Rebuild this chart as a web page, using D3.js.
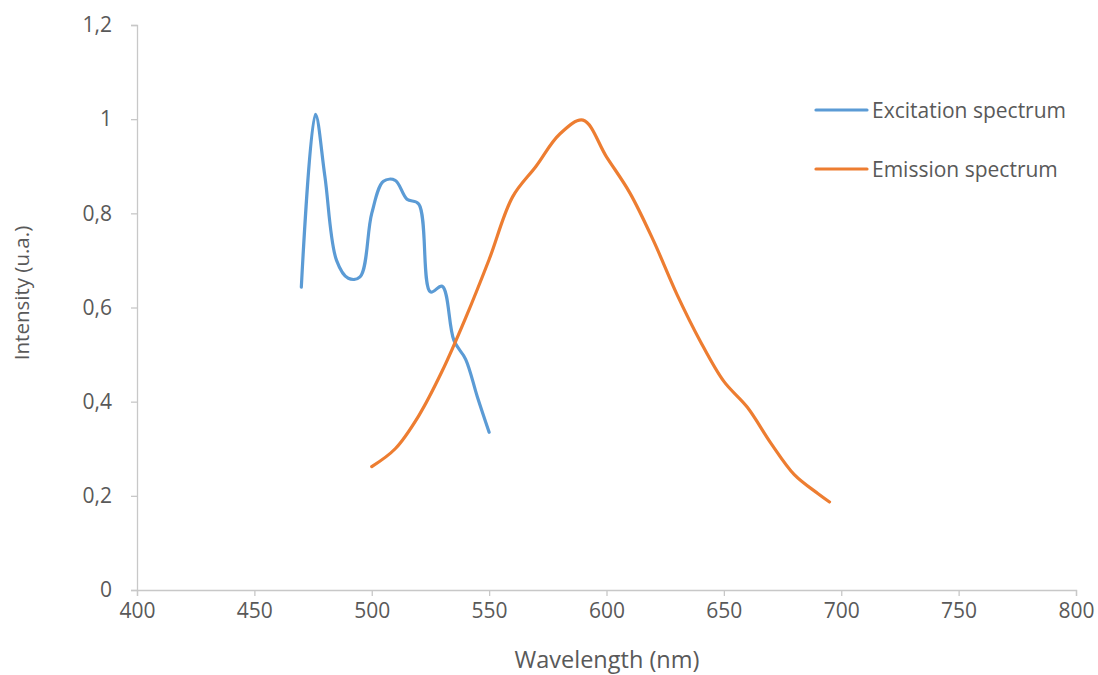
<!DOCTYPE html>
<html>
<head>
<meta charset="utf-8">
<script src="https://cdnjs.cloudflare.com/ajax/libs/d3/7.8.5/d3.min.js"></script>
<style>
  html, body { margin: 0; padding: 0; background: #fff; }
  svg text { font-family: "Open Sans", sans-serif; fill: #595959; }
</style>
</head>
<body>
<svg id="chart" width="1098" height="675"></svg>
<script>
// ---- data ----
const seriesNames = ["Excitation spectrum", "Emission spectrum"];
const excitationX = [470, 476, 480, 485, 490, 495, 500, 505, 510, 515, 520, 525, 530, 535, 540, 545, 550];
const excitationY = [0.643, 1.01, 0.88, 0.70, 0.662, 0.665, 0.80, 0.868, 0.870, 0.830, 0.820, 0.633, 0.645, 0.530, 0.490, 0.410, 0.335];
const emissionX = [500, 510, 520, 530, 540, 550, 560, 570, 580, 590, 600, 610, 620, 630, 640, 650, 660, 670, 680, 690, 695];
const emissionY = [0.262, 0.300, 0.370, 0.465, 0.578, 0.702, 0.835, 0.900, 0.968, 0.998, 0.920, 0.843, 0.742, 0.628, 0.528, 0.443, 0.388, 0.312, 0.245, 0.205, 0.187];
const xTicks = [400, 450, 500, 550, 600, 650, 700, 750, 800];
const yTicks = [0, 0.2, 0.4, 0.6, 0.8, 1, 1.2];
const colors = ["#5B9BD5", "#ED7D31"];

(function () {
const svg = d3.select("#chart");
const mLeft = 137, mRight = 1076, mTop = 25, mBottom = 590;

const x = d3.scaleLinear().domain([400, 800]).range([mLeft, mRight]);
const y = d3.scaleLinear().domain([0, 1.2]).range([mBottom, mTop]);

const axisColor = "#c8c8c8";
const fmt = v => String(+v.toFixed(1)).replace(".", ",");

// x axis
const xAxis = svg.append("g").attr("transform", `translate(0,${mBottom})`)
  .call(d3.axisBottom(x).tickValues(xTicks).tickSize(6).tickPadding(7).tickFormat(d => d));
xAxis.select(".domain").attr("stroke", axisColor).attr("stroke-width", 1.3);
xAxis.selectAll(".tick line").attr("stroke", axisColor).attr("stroke-width", 1.3);
xAxis.selectAll(".tick text").attr("font-size", 21).attr("fill", "#595959").attr("font-family", "Open Sans");

// y axis
const yAxis = svg.append("g").attr("transform", `translate(${mLeft},0)`)
  .call(d3.axisLeft(y).tickValues(yTicks).tickSize(6).tickPadding(19).tickFormat(fmt));
yAxis.select(".domain").attr("stroke", axisColor).attr("stroke-width", 1.3);
yAxis.selectAll(".tick line").attr("stroke", axisColor).attr("stroke-width", 1.3);
yAxis.selectAll(".tick text").attr("font-size", 21).attr("fill", "#595959").attr("font-family", "Open Sans");

// axis titles
svg.append("text").attr("x", 607).attr("y", 668).attr("text-anchor", "middle")
  .attr("font-size", 23.5).text("Wavelength (nm)");
svg.append("text").attr("transform", "translate(29,293) rotate(-90)").attr("text-anchor", "middle")
  .attr("font-size", 20.5).text("Intensity (u.a.)");

// lines
const line = d3.line().x(d => x(d[0])).y(d => y(d[1])).curve(d3.curveCatmullRom.alpha(0.5));
const data = [
  excitationX.map((v, i) => [v, excitationY[i]]),
  emissionX.map((v, i) => [v, emissionY[i]])
];
data.forEach((d, i) => {
  svg.append("path").datum(d).attr("d", line)
    .attr("fill", "none").attr("stroke", colors[i]).attr("stroke-width", 3.2)
    .attr("stroke-linecap", "round").attr("stroke-linejoin", "round");
});

// legend
const legY = [110, 169];
seriesNames.forEach((name, i) => {
  svg.append("line").attr("x1", 816).attr("x2", 867).attr("y1", legY[i]).attr("y2", legY[i])
    .attr("stroke", colors[i]).attr("stroke-width", 3.2).attr("stroke-linecap", "round");
  svg.append("text").attr("x", 872).attr("y", legY[i] + 7.5).attr("font-size", 21).text(name);
});
})();
</script>
</body>
</html>
